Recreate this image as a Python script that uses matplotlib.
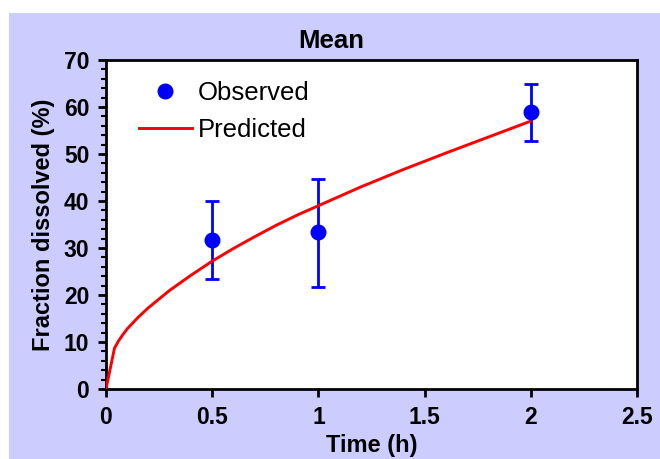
import matplotlib.pyplot as plt
from matplotlib.patches import Rectangle
from matplotlib.ticker import MultipleLocator

plt.rcParams['font.family'] = ['Liberation Sans', 'DejaVu Sans']

# observed means with lower / upper ends of the error bars
obs_time = [0.5, 1.0, 2.0]
obs_mean = [31.7, 33.3, 58.9]
obs_low = [23.3, 21.8, 52.8]
obs_high = [40.0, 44.7, 65.0]

# predicted profile
pred_time = [0.0, 0.04, 0.06, 0.08, 0.1, 0.15, 0.2, 0.3, 0.4, 0.5, 0.6, 0.7, 0.8,
             0.9, 1.0, 1.2, 1.4, 1.6, 1.8, 2.0]
pred_frac = [0.0, 8.7, 10.3, 11.6, 12.8, 15.2, 17.3, 21.0, 24.2, 27.2, 29.9, 32.4,
             34.8, 37.0, 39.0, 43.0, 46.7, 50.2, 53.6, 57.0]

fig = plt.figure(figsize=(6.6, 4.59), dpi=100, facecolor='white')
fig.patches.append(Rectangle((9 / 660, 0), 1, 1 - 13 / 459, transform=fig.transFigure,
                             facecolor='#CCCCFF', edgecolor='none', zorder=-10))

ax = fig.add_axes([106 / 660, 70 / 459, 531 / 660, 329 / 459])
ax.set_facecolor('white')

yerr = [[m - lo for m, lo in zip(obs_mean, obs_low)],
        [hi - m for m, hi in zip(obs_mean, obs_high)]]
ax.errorbar(obs_time, obs_mean, yerr=yerr, fmt='none', ecolor='#0000FF',
            elinewidth=2, capsize=5, capthick=2, zorder=2)
ax.plot(pred_time, pred_frac, color='#FF0000', lw=2.1, label='Predicted', zorder=3)
ax.plot(obs_time, obs_mean, 'o', color='#0000FF', ms=10.5, mec='#0000FF',
        label='Observed', zorder=4, linestyle='none')

ax.set_xlim(0, 2.5)
ax.set_ylim(0, 70)
ax.yaxis.set_major_locator(MultipleLocator(10))
ax.yaxis.set_minor_locator(MultipleLocator(2))
ax.set_xticks([0, 0.5, 1, 1.5, 2, 2.5])
ax.set_xticklabels(['0', '0.5', '1', '1.5', '2', '2.5'])

for s in ax.spines.values():
    s.set_linewidth(2)
ax.tick_params(axis='both', which='major', direction='out', length=5.5, width=2,
               labelsize=16.5, pad=6.5)
ax.tick_params(axis='y', which='minor', direction='out', length=3.5, width=1.5)
for lab in ax.get_xticklabels() + ax.get_yticklabels():
    lab.set_fontweight('bold')

# title sits over the middle of the whole figure, not the axes
ax.set_title('Mean', fontsize=18.5, fontweight='bold', pad=9, x=0.4247)
ax.set_xlabel('Time (h)', fontsize=17, fontweight='bold', labelpad=4)
ax.set_ylabel('Fraction dissolved (%)', fontsize=17, fontweight='bold', labelpad=6)

h, l = ax.get_legend_handles_labels()
ax.legend([h[1], h[0]], [l[1], l[0]], loc='upper left', bbox_to_anchor=(0.062, 0.936),
          frameon=False, fontsize=18.5, handlelength=2.05, handletextpad=0.25,
          labelspacing=0.5, borderpad=0, borderaxespad=0)

fig.savefig('out.png', dpi=100, facecolor=fig.get_facecolor())
